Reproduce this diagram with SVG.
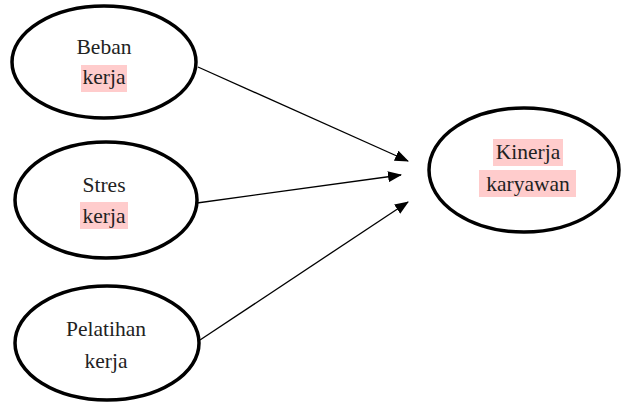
<svg xmlns="http://www.w3.org/2000/svg" width="621" height="402" viewBox="0 0 621 402">
<style>
.node ellipse{fill:#fff;stroke:#000;stroke-width:3.5}
.t{font-family:"Liberation Serif","DejaVu Serif",serif;font-size:21.5px;fill:#222;text-anchor:middle}
.hl{fill:#ffcccc}
.conn line{stroke:#000;stroke-width:1.3}
</style>
<defs>
<marker id="ah" markerWidth="14" markerHeight="11" refX="13" refY="5.5" orient="auto" markerUnits="userSpaceOnUse" viewBox="0 0 14 11">
<path d="M0,0 L14,5.5 L0,11 Z" fill="#000"/>
</marker>
</defs>
<rect width="621" height="402" fill="#fff"/>
<g id="connectors" class="conn">
<line x1="198" y1="67" x2="408" y2="161" marker-end="url(#ah)"/>
<line x1="197" y1="203" x2="401" y2="175" marker-end="url(#ah)"/>
<line x1="200" y1="340" x2="408" y2="202" marker-end="url(#ah)"/>
</g>
<g id="beban" class="node">
<ellipse cx="104" cy="62" rx="92" ry="56"/>
<rect class="hl" x="81" y="65" width="46" height="27"/>
<text class="t" x="104" y="54">Beban</text>
<text class="t" x="104" y="84">kerja</text>
</g>
<g id="stres" class="node">
<ellipse cx="106" cy="200" rx="91" ry="58"/>
<rect class="hl" x="80" y="202" width="48" height="27"/>
<text class="t" x="104" y="192">Stres</text>
<text class="t" x="104" y="223">kerja</text>
</g>
<g id="pelatihan" class="node">
<ellipse cx="107" cy="343" rx="92" ry="57"/>
<text class="t" x="106" y="336">Pelatihan</text>
<text class="t" x="106" y="368">kerja</text>
</g>
<g id="kinerja" class="node">
<ellipse cx="524" cy="170" rx="95" ry="62"/>
<rect class="hl" x="493" y="139" width="70" height="27"/>
<rect class="hl" x="479" y="170" width="97" height="27"/>
<text class="t" x="528" y="159">Kinerja</text>
<text class="t" x="528" y="191">karyawan</text>
</g>
</svg>
